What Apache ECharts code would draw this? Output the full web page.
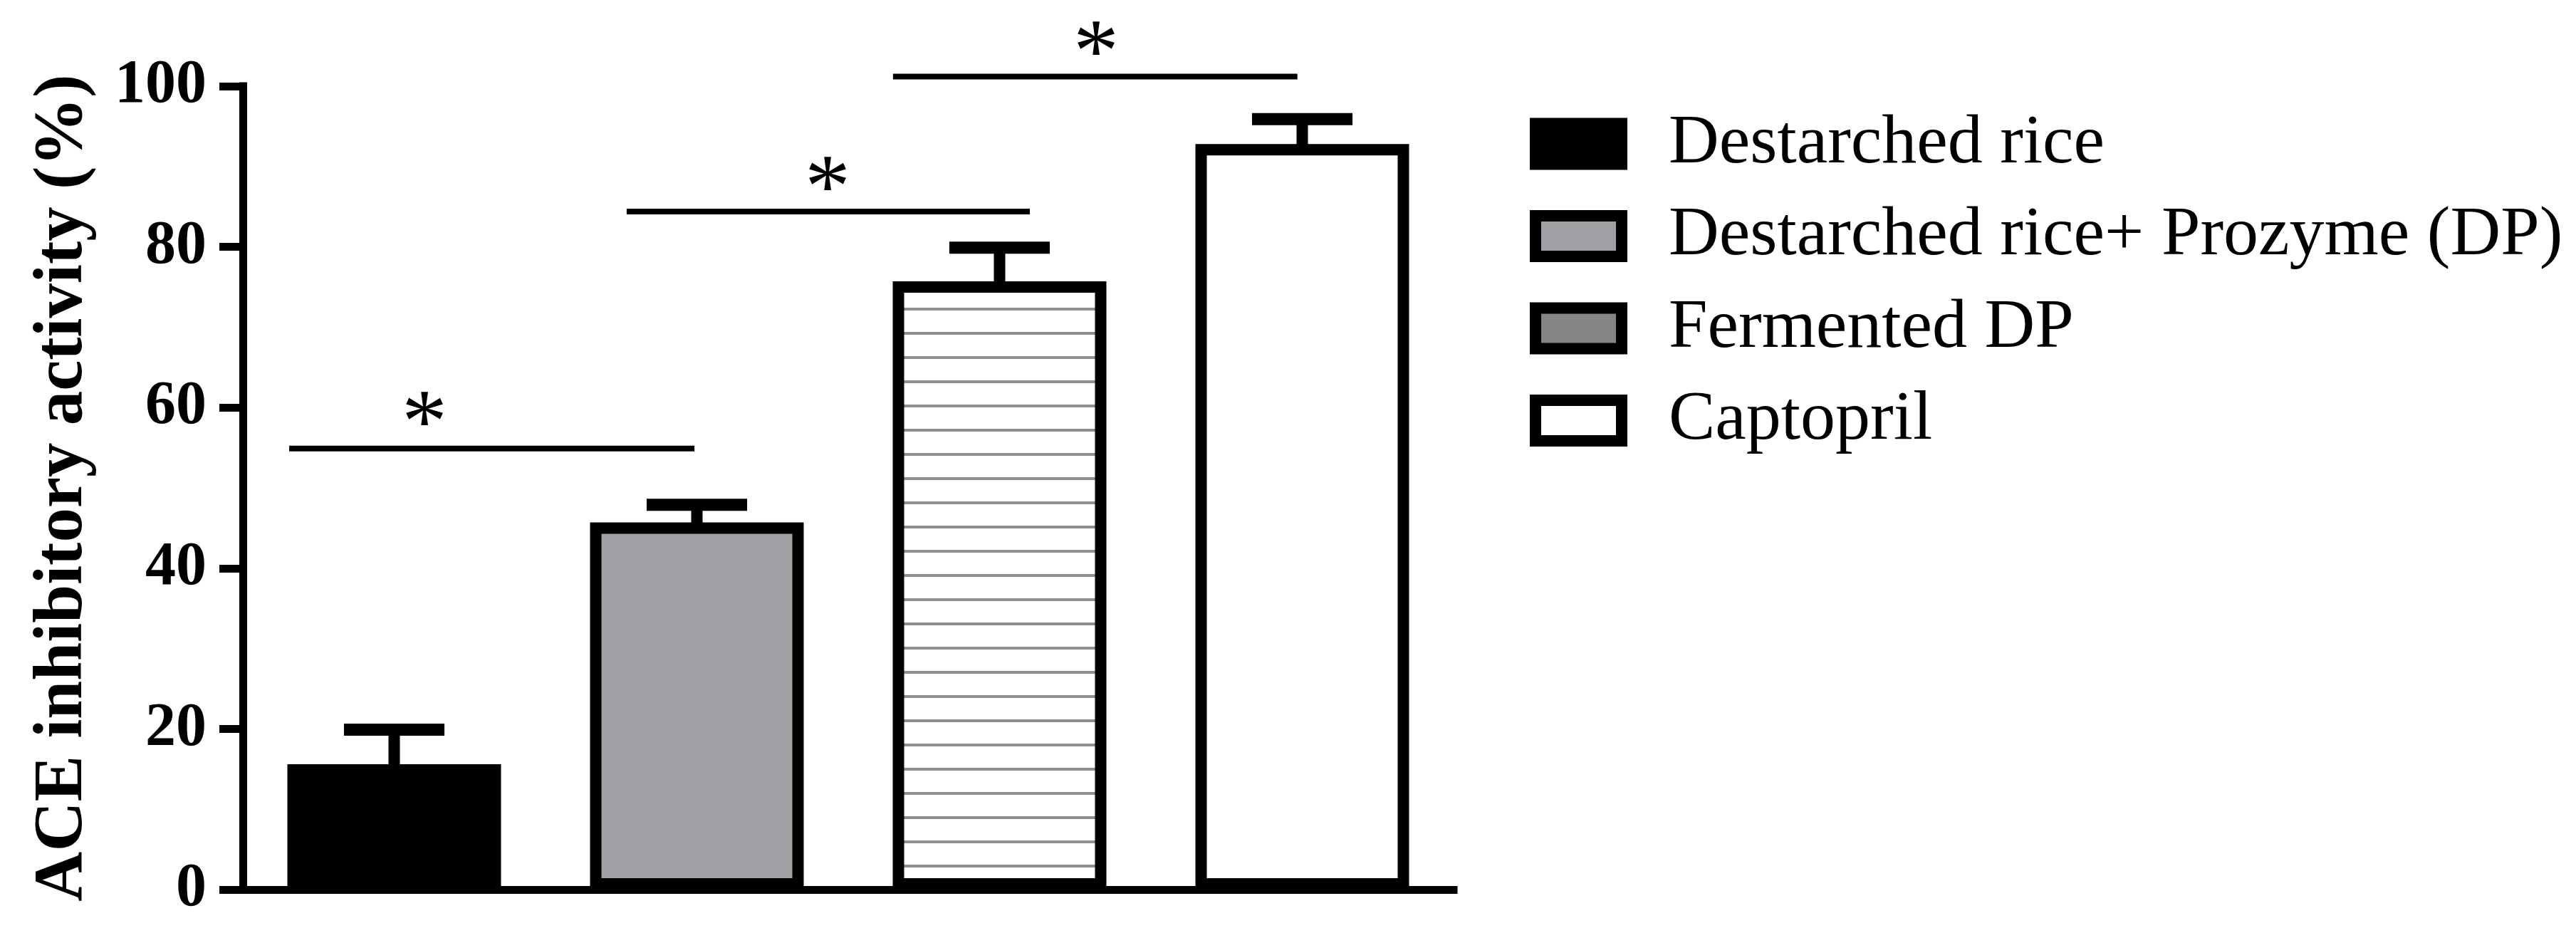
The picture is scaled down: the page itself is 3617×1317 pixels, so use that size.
<!DOCTYPE html>
<html>
<head>
<meta charset="utf-8">
<title>ACE inhibitory activity</title>
<script src="https://cdn.jsdelivr.net/npm/echarts@6/dist/echarts.min.js"></script>
<style>
  html, body { margin: 0; padding: 0; background: #fff; }
  #main { width: 3617px; height: 1317px; }
</style>
</head>
<body>
<div id="main"></div>
<script>
// values
const categories = ['Destarched rice', 'Destarched rice+ Prozyme (DP)', 'Fermented DP', 'Captopril'];
const means = [15.6, 45.7, 75.7, 92.8];
const errTops = [19.9, 47.9, 79.9, 95.9];
const yTicks = [0, 20, 40, 60, 80, 100];

// significance brackets, x in category-band units from the first category
const sigFrom = [-0.347, 0.768, 1.648];
const sigTo = [0.992, 2.100, 2.984];
const sigLevel = [54.9, 84.4, 101.2];
const starX = [0.10, 1.432, 2.319];
const starY = [57.5, 86.8, 103.6];

const FONT = '"Liberation Serif", "Times New Roman", serif';

function hatchPattern() {
  const c = document.createElement('canvas');
  c.width = 8;
  c.height = 34;
  const ctx = c.getContext('2d');
  ctx.fillStyle = '#fff';
  ctx.fillRect(0, 0, 8, 34);
  ctx.fillStyle = '#8e8e8e';
  ctx.fillRect(0, 24, 8, 4);
  return c;
}

const barStyles = [
  { color: '#000', borderColor: '#000', borderWidth: 16 },
  { color: '#a1a0a5', borderColor: '#000', borderWidth: 16 },
  { color: { image: hatchPattern(), repeat: 'repeat' }, borderColor: '#000', borderWidth: 16 },
  { color: '#fff', borderColor: '#000', borderWidth: 16 }
];
const legendFills = ['#000', '#a1a0a5', '#858585', '#fff'];

const barSeries = categories.map(function (name, i) {
  return {
    name: name,
    type: 'bar',
    barWidth: 300,
    barGap: '-100%',
    itemStyle: barStyles[i],
    data: categories.map(function (_, j) { return j === i ? means[i] : '-'; })
  };
});

const errorSeries = {
  type: 'custom',
  z: 1,
  data: means.map(function (m, i) { return [i, m, errTops[i]]; }),
  renderItem: function (params, api) {
    const x = api.value(0);
    const p0 = api.coord([x, api.value(1)]);
    const p1 = api.coord([x, api.value(2)]);
    const half = api.size([1, 0])[0] * 0.166;
    return {
      type: 'group',
      children: [
        { type: 'line', shape: { x1: p0[0], y1: p0[1] + 8, x2: p1[0], y2: p1[1] }, style: { stroke: '#000', lineWidth: 16 } },
        { type: 'line', shape: { x1: p1[0] - half, y1: p1[1], x2: p1[0] + half, y2: p1[1] }, style: { stroke: '#000', lineWidth: 17 } }
      ]
    };
  }
};

const sigSeries = {
  type: 'custom',
  clip: false,
  data: sigLevel.map(function (v, i) { return [0, v, sigFrom[i], sigTo[i], starX[i], starY[i]]; }),
  renderItem: function (params, api) {
    const base = api.coord([0, 0])[0];
    const band = api.size([1, 0])[0];
    const y = api.coord([0, api.value(1)])[1];
    const sy = api.coord([0, api.value(5)])[1];
    return {
      type: 'group',
      children: [
        { type: 'line', shape: { x1: base + api.value(2) * band, y1: y, x2: base + api.value(3) * band, y2: y }, style: { stroke: '#000', lineWidth: 8 } },
        { type: 'text', style: { text: '*', x: base + api.value(4) * band, y: sy, align: 'center', verticalAlign: 'middle', fontSize: 128, fontFamily: FONT, fill: '#000' } }
      ]
    };
  }
};

const chart = echarts.init(document.getElementById('main'));
chart.setOption({
  animation: false,
  backgroundColor: '#fff',
  grid: { left: 341, right: 1576, top: 121, bottom: 68 },
  legend: {
    orient: 'vertical',
    left: 2143,
    top: 147,
    itemWidth: 121,
    itemHeight: 57,
    itemGap: 29.5,
    icon: 'rect',
    selectedMode: false,
    itemStyle: { borderColor: '#000', borderWidth: 16 },
    textStyle: { fontFamily: FONT, fontSize: 98, color: '#000', lineHeight: 100, padding: [0, 0, 0, 61] },
    data: categories.map(function (name, i) {
      return { name: name, itemStyle: { color: legendFills[i], borderColor: '#000', borderWidth: 16 } };
    })
  },
  xAxis: {
    type: 'category',
    data: categories,
    z: 3,
    axisLine: { lineStyle: { color: '#000', width: 11, cap: 'square' } },
    axisTick: { alignWithLabel: true, length: 33, lineStyle: { color: '#000', width: 12 } },
    axisLabel: { show: false },
    splitLine: { show: false }
  },
  yAxis: {
    type: 'value',
    min: yTicks[0],
    max: yTicks[yTicks.length - 1],
    interval: yTicks[1] - yTicks[0],
    name: 'ACE inhibitory activity (%)',
    nameLocation: 'middle',
    nameGap: 204,
    nameTextStyle: { fontFamily: FONT, fontSize: 97, fontWeight: 'bold', color: '#000' },
    axisLine: { show: true, lineStyle: { color: '#000', width: 11, cap: 'square' } },
    axisTick: { show: true, length: 33, lineStyle: { color: '#000', width: 11 } },
    axisLabel: { margin: 51, fontFamily: FONT, fontSize: 86, fontWeight: 'bold', color: '#000' },
    splitLine: { show: false }
  },
  series: barSeries.concat([errorSeries, sigSeries])
});
</script>
</body>
</html>
